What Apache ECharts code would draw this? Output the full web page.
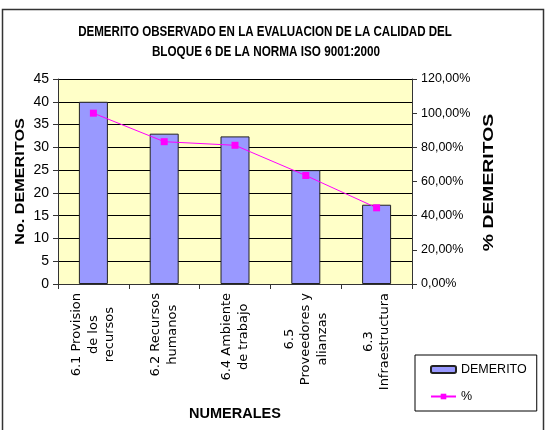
<!DOCTYPE html>
<html>
<head>
<meta charset="utf-8">
<script src="https://cdn.jsdelivr.net/npm/echarts@6/dist/echarts.min.js"></script>
<style>html,body{margin:0;padding:0;background:#fff}#c{width:548px;height:430px}</style>
</head>
<body>
<div id="c"></div>
<script>
const titleLines = ['DEMERITO OBSERVADO EN LA EVALUACION DE LA CALIDAD DEL', 'BLOQUE 6 DE LA NORMA ISO 9001:2000'];
const categories = [
  ['6.1 Provision', 'de los', 'recursos'],
  ['6.2 Recursos', 'humanos'],
  ['6.4 Ambiente', 'de trabajo'],
  ['6.5', 'Proveedores y', 'alianzas'],
  ['6.3', 'Infraestructura']
];
const demerito = [40, 33, 32.4, 25, 17.4];
const porcentaje = [1.0, 0.833, 0.812, 0.635, 0.446];
const leftTicks = {min: 0, max: 45, interval: 5};
const rightTicks = {min: 0, max: 1.2, interval: 0.2};
const xName = 'NUMERALES';
const leftName = 'No. DEMERITOS';
const rightName = '% DEMERITOS';

const ARIAL = "'Liberation Sans',Arial,sans-serif";
const WIDE = "'DejaVu Sans',sans-serif";

function label(text, x, y, size, scaleX, rot) {
  return {
    type: 'text', x: x, y: y, scaleX: scaleX, rotation: rot || 0, silent: true,
    style: {text: text, fill: '#000', font: 'bold ' + size + 'px ' + ARIAL,
      textAlign: 'center', textVerticalAlign: 'middle', align: 'center', verticalAlign: 'middle'}
  };
}

const catKeys = categories.map(c => c.join('|'));
const chart = echarts.init(document.getElementById('c'));
chart.setOption({
  animation: false,
  backgroundColor: '#fff',
  graphic: [
    {type: 'rect', silent: true, z: -1,
     shape: {x: 2.5, y: 9.5, width: 541, height: 430},
     style: {fill: 'none', stroke: '#333', lineWidth: 1.5}},
    label(titleLines[0], 265, 32, 15, 0.771),
    label(titleLines[1], 266, 51.5, 15, 0.78),
    label(leftName, 21, 181.5, 12, 1.35, Math.PI / 2),
    label(rightName, 489, 182.5, 15, 1.29, Math.PI / 2)
  ],
  legend: {
    orient: 'vertical', left: 415, top: 355,
    padding: [8, 10, 8, 15], itemGap: 14,
    itemWidth: 25, itemHeight: 7,
    borderColor: '#000', borderWidth: 1, backgroundColor: '#fff',
    textStyle: {fontFamily: ARIAL, fontSize: 12.5, color: '#000'},
    data: ['DEMERITO', '%']
  },
  grid: {left: 58, right: 136, top: 79, bottom: 146, show: true, backgroundColor: '#FFFFC8', borderWidth: 0},
  xAxis: {
    type: 'category', data: catKeys, boundaryGap: true,
    name: xName, nameLocation: 'middle', nameGap: 122,
    nameTextStyle: {fontFamily: ARIAL, fontWeight: 'bold', fontSize: 14.5, color: '#000'},
    axisLine: {lineStyle: {color: '#333', width: 1}},
    axisTick: {show: true, length: 5, lineStyle: {color: '#333'}},
    axisLabel: {
      rotate: 90, margin: 9, interval: 0, color: '#000',
      fontFamily: WIDE, fontSize: 13, lineHeight: 16.5,
      formatter: v => v.split('|').map(s => '{c|' + s + '}').join('\n'),
      rich: {c: {align: 'center', fontFamily: WIDE, fontSize: 13, lineHeight: 16.5, color: '#000'}}
    }
  },
  yAxis: [{
    type: 'value', min: leftTicks.min, max: leftTicks.max, interval: leftTicks.interval,
    axisLine: {show: true, lineStyle: {color: '#333'}},
    axisTick: {show: true, length: 5, lineStyle: {color: '#333'}},
    axisLabel: {margin: 9, fontFamily: ARIAL, fontSize: 14, color: '#000'},
    splitLine: {show: true, lineStyle: {color: '#000', width: 1}}
  }, {
    type: 'value', min: rightTicks.min, max: rightTicks.max, interval: rightTicks.interval,
    position: 'right',
    axisLine: {show: true, lineStyle: {color: '#333'}},
    axisTick: {show: true, length: 5, lineStyle: {color: '#333'}},
    axisLabel: {margin: 9, fontFamily: ARIAL, fontSize: 12.5, color: '#000',
      formatter: v => (v * 100).toFixed(2).replace('.', ',') + '%'},
    splitLine: {show: false}
  }],
  series: [{
    name: 'DEMERITO', type: 'bar', data: demerito, barWidth: 29,
    itemStyle: {color: '#9999FF', borderColor: '#222', borderWidth: 1}
  }, {
    name: '%', type: 'line', yAxisIndex: 1, data: porcentaje,
    symbol: 'rect', symbolSize: 7,
    lineStyle: {color: '#FF00FF', width: 1},
    itemStyle: {color: '#FF00FF'}
  }]
});
</script>
</body>
</html>
